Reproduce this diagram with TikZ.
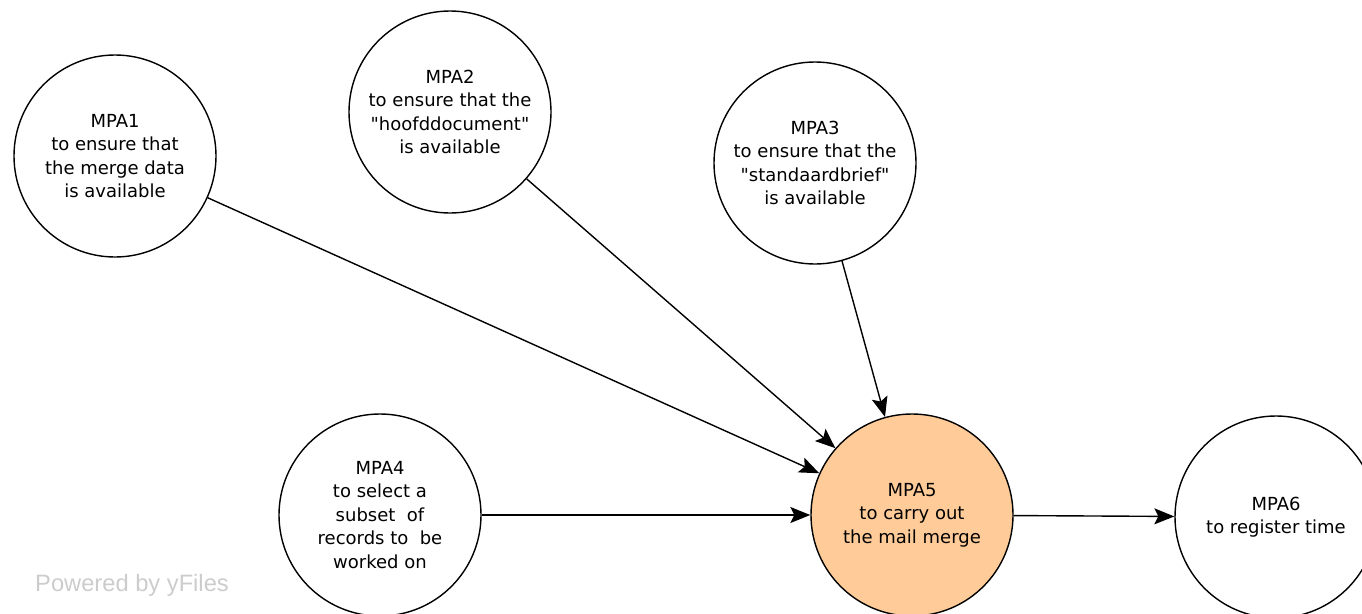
\documentclass[tikz,border=0pt]{standalone}
\usepackage{fontspec}
\setmainfont{DejaVu Sans}[Ligatures=TeXOff]
\newfontfamily\wmfont{Liberation Sans}
\usetikzlibrary{arrows.meta}
\definecolor{mergefill}{RGB}{255,204,153}
\definecolor{wmgray}{RGB}{204,204,204}
\begin{document}
\begin{tikzpicture}[x=1pt,y=-1pt,
  task/.style={circle,draw=black,line width=1.4pt,fill=white,minimum size=202pt,
    inner sep=0pt,align=center,font=\fontsize{18}{23.5}\selectfont},
  flow/.style={line width=1.4pt,-{Stealth[length=20pt,width=16pt,inset=4pt]}},
  mark text/.style={anchor=base west,text=wmgray,font=\wmfont\fontsize{23.7}{26}\selectfont,inner sep=0pt}]
\useasboundingbox (0,0) rectangle (1362,613);
% activity nodes
\node[task] (m1) at (115,156) {MPA1\\to ensure that\\the merge data\\is available};
\node[task] (m2) at (450,112) {MPA2\\to ensure that the\\"hoofddocument"\\is available};
\node[task] (m3) at (815,163) {MPA3\\to ensure that the\\"standaardbrief"\\is available};
\node[task] (m4) at (380,515) {MPA4\\to select a\\subset\ \ of\\records to\ \ be\\worked on};
\node[task,fill=mergefill] (m5) at (912,515) {MPA5\\to carry out\\the mail merge};
\node[task] (m6) at (1276,517) {MPA6\\to register time};
% dependencies
\draw[flow] (m1) -- (m5);
\draw[flow] (m2) -- (m5);
\draw[flow] (m3) -- (m5);
\draw[flow] (m4) -- (m5);
\draw[flow] (m5) -- (m6);
% watermark
\node[mark text] (wm) at (35,591) {Powered by yFiles};
\end{tikzpicture}
\end{document}
